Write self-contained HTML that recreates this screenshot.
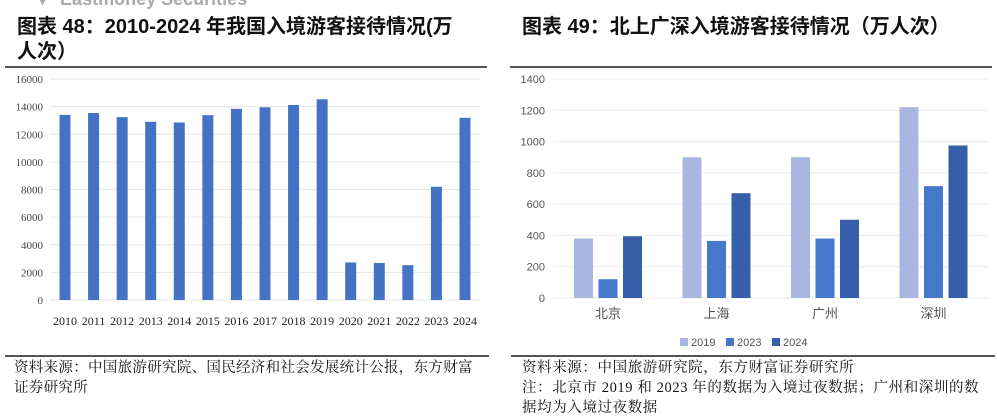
<!DOCTYPE html>
<html><head><meta charset="utf-8"><style>
body{margin:0;width:997px;height:410px;overflow:hidden;background:#fff;font-family:"Liberation Sans","Noto Sans CJK SC",sans-serif;position:relative}
.t{position:absolute;font-weight:bold;font-size:20px;color:#111;line-height:25px}
.src{position:absolute;font-family:"Liberation Serif","Noto Serif CJK SC",serif;font-size:14.5px;color:#111;line-height:20px;letter-spacing:0.6px}
.hl{position:absolute;height:1.5px;background:#555}
</style></head><body>
<div style="position:absolute;left:38px;top:-11px;font-size:18px;font-weight:bold;color:#aaa">▾ <span style="margin-left:8px">Eastmoney Securities</span></div>
<div class="t" style="left:17px;top:15px;width:450px">图表 48：2010-2024 年我国入境游客接待情况(万人次）</div>
<div class="t" style="left:522px;top:15px">图表 49：北上广深入境游客接待情况（万人次）</div>
<div class="hl" style="left:5px;top:66px;width:482px"></div>
<div class="hl" style="left:510px;top:66px;width:482px"></div>
<div class="hl" style="left:5px;top:355px;width:484px"></div>
<div class="hl" style="left:511px;top:355px;width:484px"></div>
<div class="src" style="left:14px;top:358px;width:466px;letter-spacing:0.3px">资料来源：中国旅游研究院、国民经济和社会发展统计公报，东方财富证券研究所</div>
<div class="src" style="left:522px;top:358px;width:466px">资料来源：中国旅游研究院，东方财富证券研究所<br>注：北京市 2019 和 2023 年的数据为入境过夜数据；广州和深圳的数据均为入境过夜数据</div>
<svg id="c1" width="500" height="340" style="position:absolute;left:0;top:0"></svg>
<svg id="c2" width="500" height="352" style="position:absolute;left:497px;top:0"></svg>
<script>
const years=["2010","2011","2012","2013","2014","2015","2016","2017","2018","2019","2020","2021","2022","2023","2024"];
const visitors=[13400,13540,13240,12900,12850,13380,13840,13950,14120,14530,2720,2680,2520,8200,13190];
const yTicks1=[0,2000,4000,6000,8000,10000,12000,14000,16000];
const cities=["北京","上海","广州","深圳"];
const s2019=[380,900,900,1220];
const s2023=[120,365,380,715];
const s2024=[395,670,500,975];
const seriesNames=["2019","2023","2024"];
const yTicks2=[0,200,400,600,800,1000,1200,1400];
const NS="http://www.w3.org/2000/svg";
function mk(svg,tag,attrs,text){const e=document.createElementNS(NS,tag);for(const k in attrs)e.setAttribute(k,attrs[k]);if(text!=null)e.textContent=text;svg.appendChild(e);return e;}
(function(){
const svg=document.getElementById('c1');
const y=v=>300-v/16000*221, x=i=>65+i*28.57;
yTicks1.forEach(t=>{
 const g=mk(svg,'line',{x1:50,x2:480,y1:y(t),y2:y(t),stroke:'#e6e6e6','stroke-width':1});
 
 const l=mk(svg,'text',{x:43,y:y(t)+4,'text-anchor':'end','font-size':11,fill:'#444','font-family':'Liberation Serif,serif'},t);
 
});
years.forEach((yr,i)=>{
 const b=mk(svg,'rect',{x:x(i)-5.5,y:y(visitors[i]),width:11,height:300-y(visitors[i]),fill:'#4472c4'});
 
 const l=mk(svg,'text',{x:x(i),y:325,'text-anchor':'middle','font-size':12,fill:'#222','font-family':'Liberation Serif,serif'},yr);
 
});
})();
(function(){
const svg=document.getElementById('c2');
const y=v=>298-v/1400*219, cx=i=>111+i*108.5;
yTicks2.forEach(t=>{
 const g=mk(svg,'line',{x1:56,x2:491,y1:y(t),y2:y(t),stroke:'#ececec','stroke-width':1});
 
 const l=mk(svg,'text',{x:48,y:y(t)+4,'text-anchor':'end','font-size':11,fill:'#555'},t);
 
});
const series=[s2019,s2023,s2024], cols=['#a9b7e0','#4677cb','#375ea8'];
cities.forEach((c,i)=>{
 series.forEach((s,j)=>{
  const b=mk(svg,'rect',{x:cx(i)+(j-1)*24.5-9.5,y:y(s[i]),width:19,height:298-y(s[i]),fill:cols[j]});
  
 });
 const l=mk(svg,'text',{x:cx(i),y:318,'text-anchor':'middle','font-size':13,fill:'#555'},c);
 
});
seriesNames.forEach((n,j)=>{
 const lx=183+j*46;
 const r=mk(svg,'rect',{x:lx,y:338,width:8,height:8,fill:cols[j]});
 
 const t=mk(svg,'text',{x:lx+11,y:346,'font-size':11,fill:'#555'},n);
 
});
})();
</script>
</body></html>
